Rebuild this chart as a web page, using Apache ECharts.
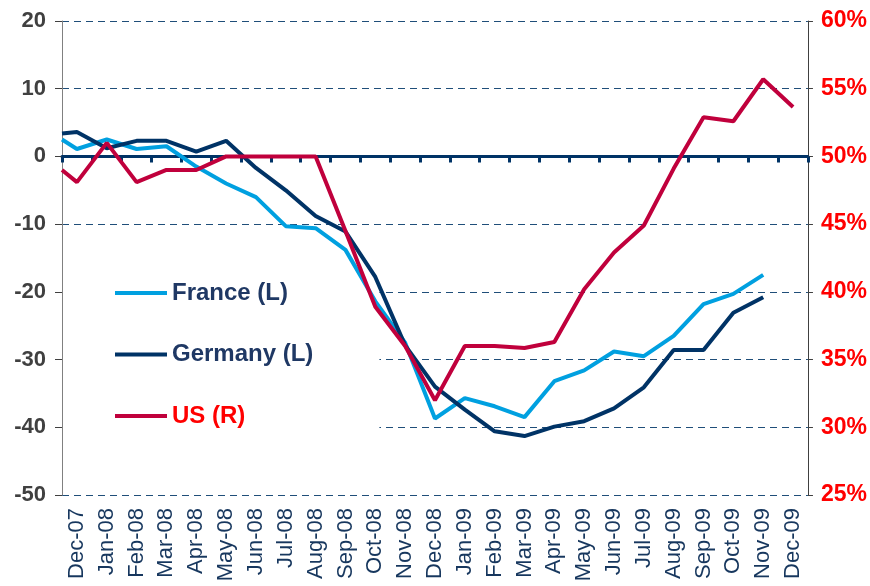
<!DOCTYPE html>
<html>
<head>
<meta charset="utf-8">
<script src="https://cdn.jsdelivr.net/npm/echarts@6/dist/echarts.min.js"></script>
<style>
html,body{margin:0;padding:0;background:#fff;}
#main{width:870px;height:586px;}
</style>
</head>
<body>
<div id="main"></div>
<script>
var months = ['Dec-07','Jan-08','Feb-08','Mar-08','Apr-08','May-08','Jun-08','Jul-08','Aug-08','Sep-08','Oct-08','Nov-08',
    'Dec-08','Jan-09','Feb-09','Mar-09','Apr-09','May-09','Jun-09','Jul-09','Aug-09','Sep-09','Oct-09','Nov-09','Dec-09'];

// value at the left plot edge (line enters from the previous month)
var franceLead = 2.5, germanyLead = 3.4, usLead = 49.0;

var france = [1.1,2.5,1.1,1.5,-1.5,-4.0,-6.0,-10.3,-10.6,-13.8,-21.4,-27.5,
    -38.7,-35.7,-36.9,-38.5,-33.2,-31.6,-28.8,-29.5,-26.5,-21.8,-20.3,-17.5,null];
var germany = [3.6,1.2,2.3,2.3,0.7,2.3,-1.7,-5.0,-8.8,-11.1,-17.8,-27.9,
    -34.0,-37.4,-40.6,-41.3,-39.9,-39.1,-37.2,-34.1,-28.6,-28.6,-23.1,-20.8,null];
var us = [48.1,51.0,48.1,49.0,49.0,50.0,50.0,50.0,50.0,44.5,38.9,36.0,
    32.0,36.0,36.0,35.85,36.3,40.2,42.9,44.9,49.1,52.9,52.6,55.7,53.65];

var leftTicks = {min:-50, max:20, interval:10};
var rightTicks = {min:25, max:60, interval:5};

function toPairs(lead, arr){
    var out = [[-0.5, lead]];
    for(var i = 0;i < arr.length;i ++){
        if(arr[i] !== null) out.push([i, arr[i]]);
    }
    return out;
}

var myChart = echarts.init(document.getElementById('main'));
var fontName = 'Liberation Sans';
var gridDash = {type:[7,5], color:'#1f4e79', width:1};

var option = {
    animation:false,
    backgroundColor:'#fff',
    textStyle:{fontFamily:fontName},
    grid:{left:62, right:62, top:21, bottom:91, containLabel:false},
    legend:{
        orient:'vertical',
        left:63,
        top:265,
        z:1,
        backgroundColor:'#fff',
        padding:[14,66,15,52],
        itemWidth:52,
        itemHeight:4,
        itemGap:33.5,
        icon:'rect',
        textStyle:{fontFamily:fontName, fontSize:24, fontWeight:'bold', lineHeight:28, color:'#1f3864'},
        data:[
            {name:'France (L)', textStyle:{color:'#1f3864'}},
            {name:'Germany (L)', textStyle:{color:'#1f3864'}},
            {name:'US (R)', textStyle:{color:'#ff0000'}}
        ]
    },
    xAxis:[
        {   // bottom labels
            type:'category',
            data:months,
            position:'bottom',
            boundaryGap:true,
            axisLine:{show:false, onZero:false},
            axisTick:{show:false},
            axisLabel:{rotate:90, interval:0, margin:13, fontSize:22, color:'#17375e', fontFamily:fontName}
        },
        {   // zero line with ticks
            type:'category',
            data:months,
            position:'bottom',
            boundaryGap:true,
            axisLine:{show:true, onZero:true, onZeroAxisIndex:0, lineStyle:{color:'#003366', width:3}},
            axisTick:{show:true, interval:0, length:6, lineStyle:{color:'#003366', width:3}},
            axisLabel:{show:false}
        },
        {   // hidden scale for series
            type:'value',
            min:-0.5,
            max:24.5,
            show:false
        }
    ],
    yAxis:[
        {
            type:'value',
            min:leftTicks.min, max:leftTicks.max, interval:leftTicks.interval,
            axisLine:{show:true, onZero:false, lineStyle:{color:'#808080', width:1}},
            axisTick:{show:true, length:7, lineStyle:{color:'#404040'}},
            axisLabel:{margin:16, fontSize:22, fontWeight:'bold', color:'#404040', fontFamily:fontName},
            splitLine:{show:true, lineStyle:gridDash}
        },
        {
            type:'value',
            position:'right',
            min:rightTicks.min, max:rightTicks.max, interval:rightTicks.interval,
            axisLine:{show:true, onZero:false, lineStyle:{color:'#404040', width:1}},
            axisTick:{show:true, length:5, lineStyle:{color:'#404040'}},
            axisLabel:{margin:13, fontSize:23, fontWeight:'bold', color:'#ff0000', fontFamily:fontName, formatter:'{value}%'},
            splitLine:{show:false}
        }
    ],
    series:[
        {
            name:'France (L)', type:'line', xAxisIndex:2, yAxisIndex:0,
            data:toPairs(franceLead, france), showSymbol:false,
            lineStyle:{color:'#00a0e0', width:4}, itemStyle:{color:'#00a0e0'}
        },
        {
            name:'Germany (L)', type:'line', xAxisIndex:2, yAxisIndex:0,
            data:toPairs(germanyLead, germany), showSymbol:false,
            lineStyle:{color:'#003366', width:4}, itemStyle:{color:'#003366'}
        },
        {
            name:'US (R)', type:'line', xAxisIndex:2, yAxisIndex:1,
            data:toPairs(usLead, us), showSymbol:false,
            lineStyle:{color:'#c0003c', width:4}, itemStyle:{color:'#c0003c'}
        }
    ]
};
myChart.setOption(option);
</script>
</body>
</html>
